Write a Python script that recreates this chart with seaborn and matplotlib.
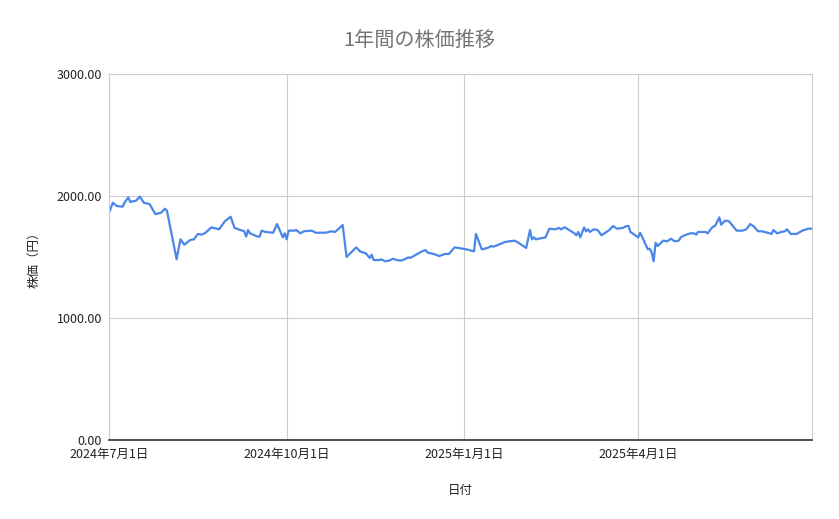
import matplotlib
matplotlib.use('Agg')
from matplotlib import pyplot as plt
import matplotlib.dates as mdates
import matplotlib.ticker as mticker
import numpy as np
import pandas as pd
import seaborn as sns

# 株価データ
dates = [
    "2024-07-01", "2024-07-03", "2024-07-05", "2024-07-08", "2024-07-09", "2024-07-11",
    "2024-07-12", "2024-07-15", "2024-07-17", "2024-07-19", "2024-07-22", "2024-07-25",
    "2024-07-28", "2024-07-30", "2024-07-31", "2024-08-05", "2024-08-07", "2024-08-09",
    "2024-08-12", "2024-08-14", "2024-08-16", "2024-08-18", "2024-08-20", "2024-08-23",
    "2024-08-27", "2024-08-30", "2024-09-02", "2024-09-04", "2024-09-06", "2024-09-09",
    "2024-09-10", "2024-09-11", "2024-09-12", "2024-09-16", "2024-09-17", "2024-09-18",
    "2024-09-20", "2024-09-24", "2024-09-26", "2024-09-29", "2024-09-30", "2024-10-01",
    "2024-10-02", "2024-10-05", "2024-10-06", "2024-10-08", "2024-10-10", "2024-10-14",
    "2024-10-16", "2024-10-21", "2024-10-23", "2024-10-24", "2024-10-26", "2024-10-28",
    "2024-10-30", "2024-11-01", "2024-11-06", "2024-11-08", "2024-11-11", "2024-11-13",
    "2024-11-14", "2024-11-15", "2024-11-18", "2024-11-19", "2024-11-21", "2024-11-23",
    "2024-11-25", "2024-11-27", "2024-11-29", "2024-12-01", "2024-12-03", "2024-12-04",
    "2024-12-07", "2024-12-10", "2024-12-12", "2024-12-13", "2024-12-16", "2024-12-19",
    "2024-12-22", "2024-12-24", "2024-12-27", "2025-01-02", "2025-01-06", "2025-01-07",
    "2025-01-10", "2025-01-13", "2025-01-15", "2025-01-16", "2025-01-18", "2025-01-22",
    "2025-01-24", "2025-01-27", "2025-01-29", "2025-02-02", "2025-02-04", "2025-02-05",
    "2025-02-06", "2025-02-07", "2025-02-12", "2025-02-14", "2025-02-17", "2025-02-19",
    "2025-02-20", "2025-02-22", "2025-02-27", "2025-02-28", "2025-03-01", "2025-03-02",
    "2025-03-04", "2025-03-05", "2025-03-06", "2025-03-07", "2025-03-09", "2025-03-11",
    "2025-03-13", "2025-03-17", "2025-03-19", "2025-03-21", "2025-03-24", "2025-03-26",
    "2025-03-27", "2025-03-28", "2025-04-01", "2025-04-02", "2025-04-03", "2025-04-06",
    "2025-04-07", "2025-04-08", "2025-04-09", "2025-04-10", "2025-04-11", "2025-04-14",
    "2025-04-16", "2025-04-18", "2025-04-20", "2025-04-22", "2025-04-23", "2025-04-25",
    "2025-04-28", "2025-04-30", "2025-05-01", "2025-05-02", "2025-05-06", "2025-05-07",
    "2025-05-09", "2025-05-11", "2025-05-13", "2025-05-14", "2025-05-16", "2025-05-18",
    "2025-05-20", "2025-05-22", "2025-05-25", "2025-05-27", "2025-05-29", "2025-05-31",
    "2025-06-02", "2025-06-04", "2025-06-07", "2025-06-09", "2025-06-10", "2025-06-12",
    "2025-06-14", "2025-06-16", "2025-06-17", "2025-06-19", "2025-06-22", "2025-06-25",
    "2025-06-28", "2025-06-30",
]
prices = [
    1863, 1945, 1918, 1912, 1945, 1989,
    1951, 1962, 1995, 1945, 1934, 1852,
    1863, 1896, 1880, 1481, 1645, 1601,
    1639, 1645, 1689, 1683, 1699, 1743,
    1727, 1793, 1830, 1738, 1727, 1711,
    1667, 1721, 1694, 1667, 1667, 1716,
    1705, 1699, 1770, 1661, 1694, 1645,
    1716, 1716, 1721, 1694, 1711, 1716,
    1699, 1699, 1705, 1711, 1705, 1732,
    1762, 1500, 1579, 1546, 1530, 1492,
    1519, 1475, 1475, 1481, 1465, 1470,
    1486, 1475, 1470, 1481, 1497, 1492,
    1519, 1546, 1557, 1536, 1525, 1508,
    1525, 1525, 1579, 1563, 1546, 1689,
    1563, 1574, 1590, 1585, 1596, 1623,
    1628, 1634, 1617, 1574, 1721, 1645,
    1661, 1645, 1661, 1732, 1727, 1738,
    1727, 1743, 1694, 1678, 1705, 1661,
    1743, 1710, 1727, 1705, 1727, 1721,
    1678, 1721, 1754, 1732, 1738, 1754,
    1754, 1705, 1661, 1699, 1667, 1563,
    1568, 1536, 1465, 1617, 1590, 1634,
    1628, 1650, 1628, 1634, 1661, 1678,
    1694, 1694, 1683, 1705, 1705, 1694,
    1738, 1760, 1825, 1765, 1798, 1793,
    1754, 1716, 1716, 1727, 1770, 1749,
    1711, 1711, 1699, 1689, 1721, 1694,
    1705, 1711, 1727, 1689, 1689, 1716,
    1732, 1732,
]
tick_dates = ["2024-07-01", "2024-10-01", "2025-01-01", "2025-04-01"]
y_ticks = [0, 1000, 2000, 3000]

title = "1年間の株価推移"
x_label = "日付"
y_label = "株価（円）"

df = pd.DataFrame({"date": pd.to_datetime(dates), "price": prices})

sns.set_theme(style="white")
plt.rcParams['font.family'] = ['Noto Sans CJK JP', 'DejaVu Sans']

fig = plt.figure(figsize=(8.39, 5.19), dpi=100)
ax = fig.add_axes([109 / 839, 1 - 440 / 519, (812 - 109) / 839, (440 - 74) / 519])

sns.lineplot(data=df, x="date", y="price", ax=ax, color="#4a86e8", linewidth=1.6)

grid_color = "#cccccc"
ticks = pd.to_datetime(tick_dates)
ax.set_xlim(df["date"].iloc[0], df["date"].iloc[-1])
ax.set_ylim(0, 3000)
ax.set_xticks(ticks)
ax.xaxis.set_major_formatter(
    mticker.FuncFormatter(lambda v, p: (lambda d: f"{d.year}年{d.month}月{d.day}日")(mdates.num2date(v)))
)
ax.set_yticks(y_ticks)
ax.yaxis.set_major_formatter(mticker.StrMethodFormatter("{x:.2f}"))

ax.grid(True, color=grid_color, linewidth=0.8)
ax.set_axisbelow(True)
for side in ["top", "right", "left"]:
    ax.spines[side].set_color(grid_color)
    ax.spines[side].set_linewidth(0.8)
ax.spines["bottom"].set_color("#333333")
ax.spines["bottom"].set_linewidth(1.2)

ax.tick_params(axis="both", length=0, labelsize=9, labelcolor="#222222")
ax.tick_params(axis="x", pad=6)
ax.tick_params(axis="y", pad=5)

ax.set_xlabel(x_label, fontsize=9, color="#222222", labelpad=16)
ax.set_ylabel(y_label, fontsize=9, color="#222222", labelpad=12)
fig.suptitle(title, x=0.5, y=1 - 40 / 519, va="center", fontsize=14.5, color="#757575")

fig.savefig("out.png", dpi=100)
